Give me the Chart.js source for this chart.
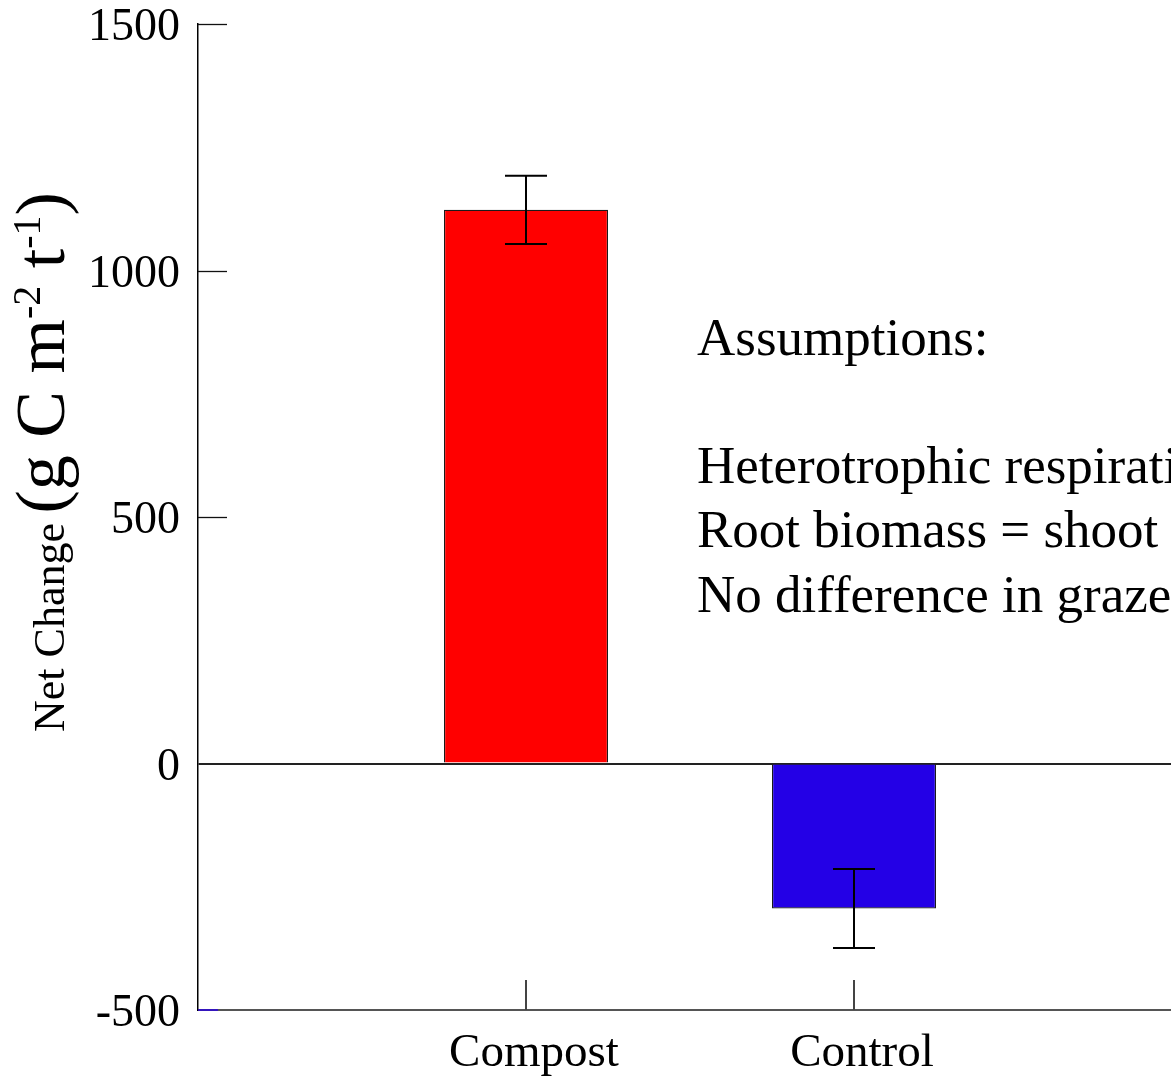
<!DOCTYPE html>
<html><head><meta charset="utf-8">
<script src="https://cdn.jsdelivr.net/npm/chart.js@4.4.1/dist/chart.umd.min.js"></script>
<style>html,body{margin:0;padding:0;background:#fff;overflow:hidden;width:1171px;height:1081px}canvas{display:block}</style>
</head><body>
<canvas id="c" width="1200" height="1081"></canvas>
<script>
const categories = ['Compost', 'Control'];
const values = [1123, -294];
const errors = [69, 80];
const barColors = ['#FF0000', '#2400E6'];
const yTicks = [-500, 0, 500, 1000, 1500];
const noteLines = ['Assumptions:', '', 'Heterotrophic respiration', 'Root biomass = shoot biomass', 'No difference in grazed'];

const FAMILY = "'Liberation Serif', 'Times New Roman', serif";
const labels = ['', ...categories, ''];
const dataVals = [null, ...values, null];
const dataErrs = [null, ...errors, null];
const dataColors = ['rgba(0,0,0,0)', ...barColors, 'rgba(0,0,0,0)'];

const errorBars = {
  id: 'errorBars',
  afterDatasetsDraw(chart) {
    const meta = chart.getDatasetMeta(0);
    const y = chart.scales.y;
    const c = chart.ctx;
    c.save();
    c.strokeStyle = '#000';
    c.lineWidth = 2;
    meta.data.forEach((bar, i) => {
      const v = dataVals[i], e = dataErrs[i];
      if (v === null || e === null) return;
      const top = y.getPixelForValue(v + e);
      const bot = y.getPixelForValue(v - e);
      const x = Math.round(bar.x);
      c.beginPath();
      c.moveTo(x, top); c.lineTo(x, bot);
      c.moveTo(x - 21, top); c.lineTo(x + 21, top);
      c.moveTo(x - 21, bot); c.lineTo(x + 21, bot);
      c.stroke();
    });
    c.restore();
  }
};

const innerTicks = {
  id: 'innerTicks',
  afterDatasetsDraw(chart) {
    const c = chart.ctx, y = chart.scales.y, x = chart.scales.x, a = chart.chartArea;
    c.save();
    y.ticks.forEach(t => {
      const py = Math.round(y.getPixelForValue(t.value)) + 0.5;
      if (t.value === 0) return;
      c.beginPath();
      if (t.value === -500) { c.strokeStyle = '#2a00e0'; c.lineWidth = 1.5; c.moveTo(a.left, py - 0.5); c.lineTo(a.left + 20, py - 0.5); }
      else { c.strokeStyle = '#111'; c.lineWidth = 1.3; c.moveTo(a.left, py); c.lineTo(a.left + 29, py); }
      c.stroke();
    });
    x.ticks.forEach((t, i) => {
      if (!labels[i]) return;
      const px = Math.round(x.getPixelForTick(i));
      c.beginPath();
      c.strokeStyle = '#444'; c.lineWidth = 2;
      c.moveTo(px, a.bottom - 30); c.lineTo(px, a.bottom);
      c.stroke();
    });
    c.restore();
  }
};

const textLayer = {
  id: 'textLayer',
  afterDraw(chart) {
    const c = chart.ctx;
    c.save();
    c.fillStyle = '#000';
    c.textBaseline = 'alphabetic';
    c.textAlign = 'left';
    c.font = '53px ' + FAMILY;
    const baselines = [355, 419, 483, 547, 612];
    noteLines.forEach((s, i) => { if (s) c.fillText(s, 697, baselines[i]); });
    c.translate(64, 732);
    c.rotate(-Math.PI / 2);
    let xPos = 0;
    const parts = [
      { t: 'Net Change', size: 44, rise: 0 },
      { t: ' (g C m', size: 70, rise: 0, gap: -8 },
      { t: '-2', size: 40, rise: 24 },
      { t: ' t', size: 70, rise: 0 },
      { t: '-1', size: 40, rise: 24 },
      { t: ')', size: 70, rise: 0 }
    ];
    parts.forEach(p => {
      c.font = p.size + 'px ' + FAMILY;
      if (p.gap) xPos += p.gap;
      c.fillText(p.t, xPos, -p.rise);
      xPos += c.measureText(p.t).width;
    });
    c.restore();
  }
};

new Chart(document.getElementById('c'), {
  type: 'bar',
  data: {
    labels: labels,
    datasets: [{
      data: dataVals,
      backgroundColor: dataColors,
      borderColor: '#1a1a1a',
      borderWidth: 1.2,
      barPercentage: 0.5,
      categoryPercentage: 1.0
    }]
  },
  options: {
    responsive: false,
    animation: false,
    layout: { padding: { left: 0, top: 24, right: 18, bottom: 0 } },
    plugins: { legend: { display: false }, tooltip: { enabled: false }, title: { display: false } },
    scales: {
      x: {
        offset: false,
        grid: { display: false, offset: false, drawTicks: false },
        border: { display: true, color: '#555', width: 2 },
        ticks: { font: { family: FAMILY, size: 47, lineHeight: 1 }, color: '#000', padding: 20, labelOffset: 8, maxRotation: 0, autoSkip: false },
        afterFit(s) { s.height = 71; s.paddingLeft = 0; s.paddingRight = 0; }
      },
      y: {
        min: -500, max: 1500,
        afterBuildTicks(s) { s.ticks = yTicks.map(v => ({ value: v })); },
        grid: {
          drawTicks: false,
          color: ctx => (ctx.tick && ctx.tick.value === 0) ? '#222' : 'rgba(0,0,0,0)',
          lineWidth: ctx => (ctx.tick && ctx.tick.value === 0) ? 2 : 1
        },
        border: { display: true, color: '#000', width: 1.5 },
        ticks: { font: { family: FAMILY, size: 46, lineHeight: 1 }, color: '#000', padding: 18, labelOffset: 4, callback: v => String(v) },
        afterFit(s) { s.width = 198; s.paddingTop = 0; s.paddingBottom = 0; }
      }
    }
  },
  plugins: [errorBars, innerTicks, textLayer]
});
</script>
</body></html>
